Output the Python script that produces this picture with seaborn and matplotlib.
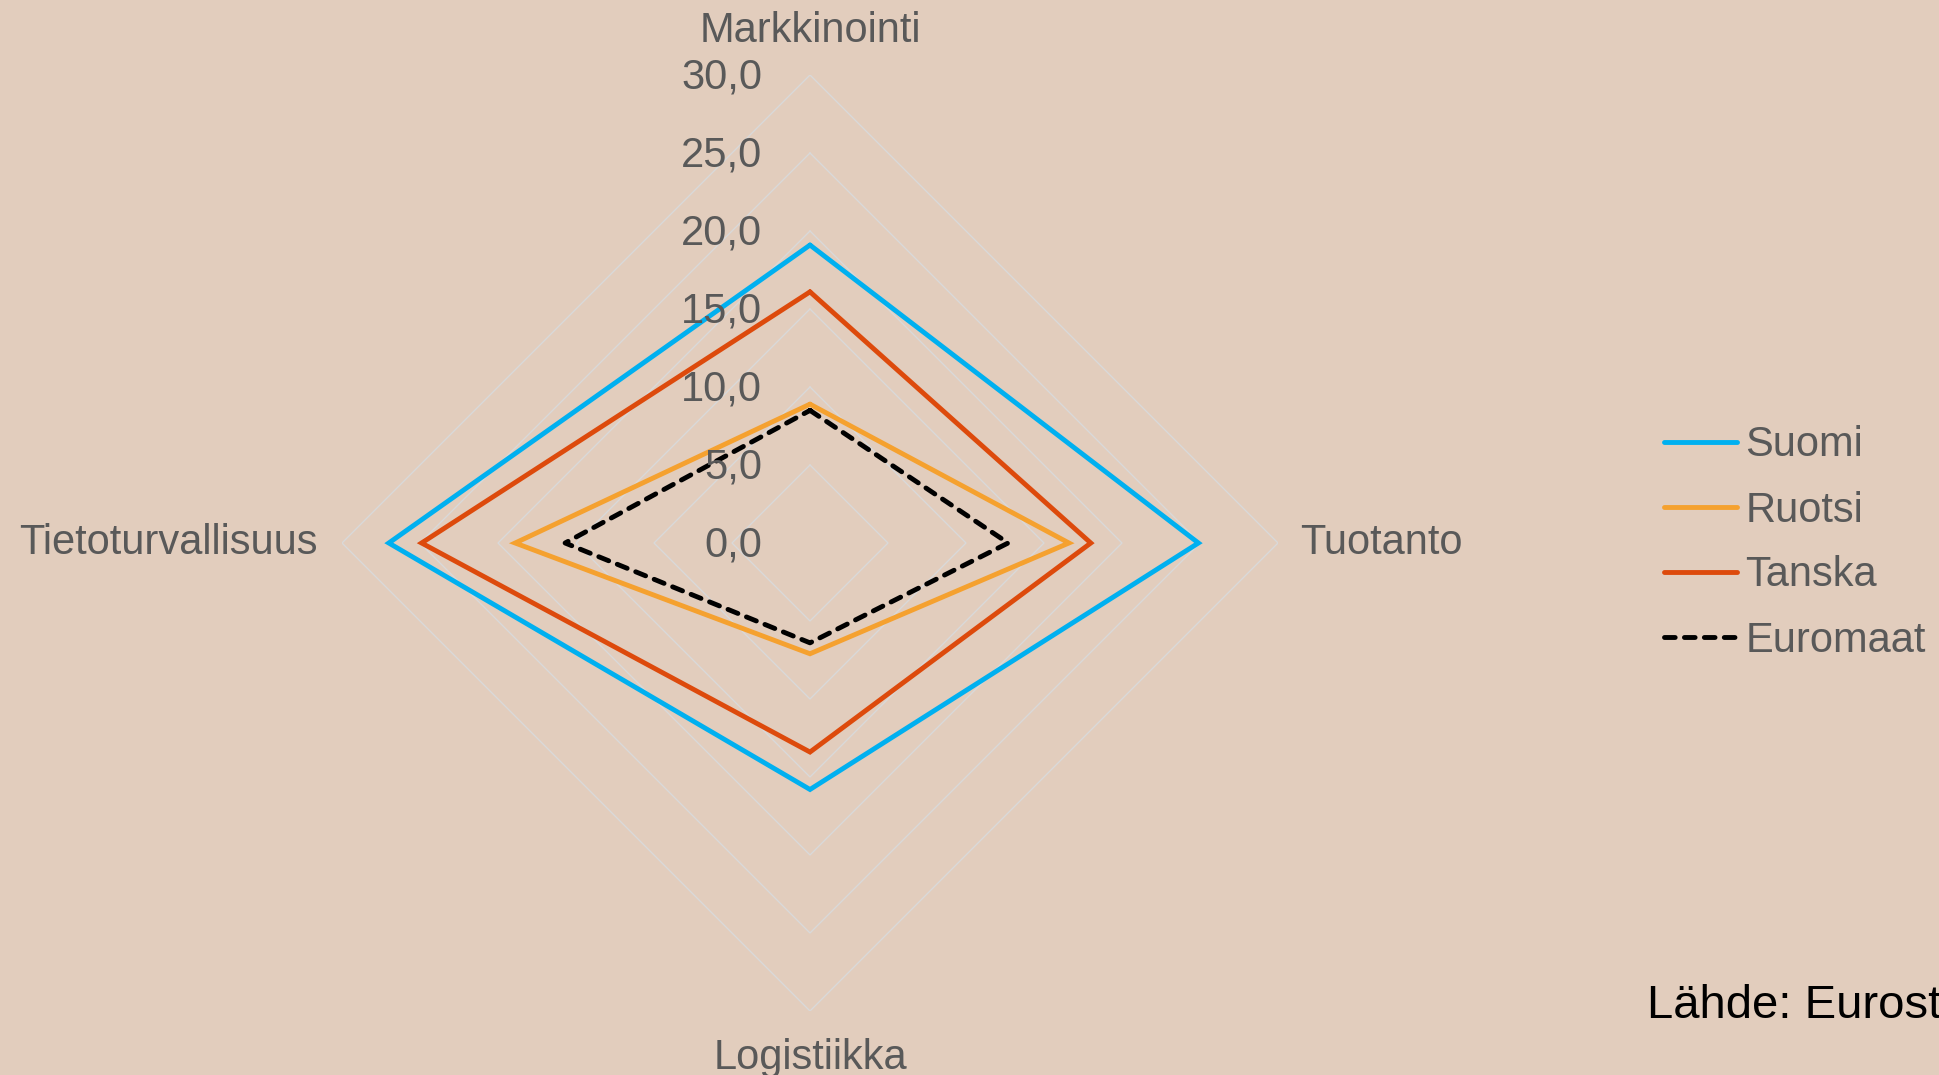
import numpy as np
import pandas as pd
import matplotlib
matplotlib.use("Agg")
import matplotlib.pyplot as plt
import matplotlib.transforms as mtrans
import seaborn as sns

# data
categories = ["Markkinointi", "Tuotanto", "Logistiikka", "Tietoturvallisuus"]
countries = ["Suomi", "Ruotsi", "Tanska", "Euromaat"]
suomi = [19.1, 24.9, 15.8, 27.0]
ruotsi = [8.9, 16.6, 7.1, 18.9]
tanska = [16.1, 18.0, 13.4, 24.9]
euromaat = [8.5, 12.7, 6.4, 15.7]
levels = [0, 5, 10, 15, 20, 25, 30]
level_labels = ["0,0", "5,0", "10,0", "15,0", "20,0", "25,0", "30,0"]
source = "Lähde: Eurostat"

bg = "#E2CDBD"
txt = "#595959"
colors = {"Suomi": "#00B0F0", "Ruotsi": "#F5A12F", "Tanska": "#DD4A0C", "Euromaat": "#000000"}

sns.set_style("white", {"axes.facecolor": bg, "figure.facecolor": bg})
plt.rcParams["font.family"] = ["Liberation Sans", "DejaVu Sans"]
plt.rcParams["lines.linewidth"] = 3.5

# long-form table, each polygon closed by repeating the first point
angles = np.linspace(0, 2 * np.pi, len(categories), endpoint=False)
rows = []
for name, vals in zip(countries, [suomi, ruotsi, tanska, euromaat]):
    for i in range(len(categories) + 1):
        k = i % len(categories)
        rows.append({"maa": name, "angle": angles[k] if i < len(categories) else 2 * np.pi,
                     "value": vals[k]})
df = pd.DataFrame(rows)

fig = plt.figure(figsize=(19.39, 10.75), dpi=100)
ax = fig.add_axes([342 / 1939, 64 / 1075, 936 / 1939, 936 / 1075], projection="polar")
ax.set_theta_zero_location("N")
ax.set_theta_direction(-1)
ax.set_facecolor(bg)

# straight polygon gridlines
closed = list(angles) + [2 * np.pi]
for lv in levels[1:]:
    ax.plot(closed, [lv] * len(closed), color="#D9D9D9", lw=1.0, zorder=1)

sns.lineplot(data=df, x="angle", y="value", hue="maa", style="maa",
             hue_order=countries, style_order=countries, palette=colors,
             dashes={"Suomi": "", "Ruotsi": "", "Tanska": "", "Euromaat": (2.2, 1.9)},
             sort=False, estimator=None, lw=3.5, ax=ax, zorder=3)
for ln in ax.lines:
    ln.set_dash_capstyle("round")
    ln.set_solid_joinstyle("miter")

ax.set_ylim(0, 30)
ax.set_yticks([])
ax.set_xticks([])
ax.grid(False)
ax.spines["polar"].set_visible(False)
ax.set(xlabel="", ylabel="")

# radial value labels left of the vertical axis
off = mtrans.offset_copy(ax.transData, fig=fig, x=-48, y=-2, units="dots")
for lv, lab in zip(levels, level_labels):
    ax.text(0, lv, lab, transform=off, ha="right", va="center", fontsize=30, color=txt)

# category labels
pos = [(0, 33, "center", "baseline"), (22, 0, "left", "center"),
       (0, -27, "center", "top"), (-24, 0, "right", "center")]
for ang, cat, (dx, dy, ha, va) in zip(angles, categories, pos):
    t = mtrans.offset_copy(ax.transData, fig=fig, x=dx, y=dy, units="dots")
    ax.text(ang, 30, cat, transform=t, ha=ha, va=va, fontsize=30, color=txt)

sns.move_legend(ax, loc="center left", bbox_to_anchor=(1664 / 1939, 1 - 543 / 1075),
                bbox_transform=fig.transFigure, title=None, frameon=False, fontsize=30,
                handlelength=1.75, handletextpad=0.2, labelspacing=0.6,
                borderpad=0, borderaxespad=0)
for t in ax.get_legend().get_texts():
    t.set_color(txt)
for h in ax.get_legend().legend_handles:
    h.set_linewidth(3.5)
    h.set_dash_capstyle("round")
    h.set_solid_capstyle("round")

fig.text(1647 / 1939, 1 - 1018 / 1075, source, ha="left", va="baseline", fontsize=34, color="black")

fig.savefig("out.png", dpi=100, facecolor=bg)
